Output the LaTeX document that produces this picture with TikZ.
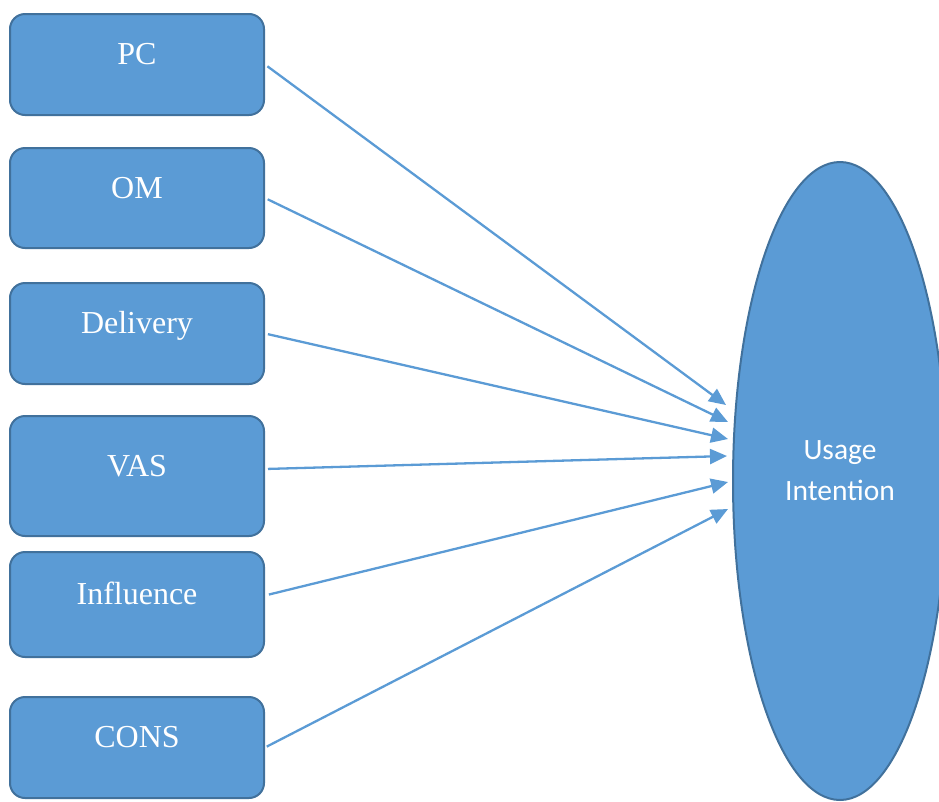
\documentclass[tikz,border=0pt]{standalone}
\usepackage{fontspec}
\setmainfont{Liberation Serif}
\newfontfamily\calibrifont{Carlito}
\usetikzlibrary{arrows.meta,positioning,shapes.geometric}
\definecolor{boxfill}{HTML}{5B9BD5}
\definecolor{boxline}{HTML}{41719C}

\begin{document}
\begin{tikzpicture}[x=1pt,y=-1pt,
    factor/.style={draw=boxline,line width=2pt,rounded corners=15pt,fill=boxfill,text=white,
      minimum width=254pt,inner sep=0pt,text height=24pt,text depth=24pt,
      font=\fontsize{32}{38}\selectfont},
    link/.style={-{Triangle[length=17pt,width=15pt]},boxfill,line width=2.3pt}]
    \useasboundingbox (0,0) rectangle (939,801);
    \node[factor,minimum height=101pt] (pc) at (137,64.5) {PC};
    \node[factor,minimum height=100pt,below=31pt of pc] (om) {OM};
    \node[factor,minimum height=101pt,below=33pt of om] (deliv) {Delivery};
    \node[factor,minimum height=120pt,below=30pt of deliv] (vas) {VAS};
    \node[factor,minimum height=105pt,below=14pt of vas] (infl) {Influence};
    \node[factor,minimum height=101pt,below=38pt of infl] (cons) {CONS};
    \node[ellipse,draw=boxline,line width=2pt,fill=boxfill,minimum width=214pt,minimum height=638pt,inner sep=0pt,
      label={[text=white,align=center,yshift=10pt,font=\calibrifont\fontsize{29.5}{41}\selectfont]center:Usage\\Intention}]
      (ui) at (840,481) {};
    \coordinate (pc-end) at (726,405);
    \coordinate (om-end) at (728,422);
    \coordinate (deliv-end) at (728,439);
    \coordinate (vas-end) at (727,456);
    \coordinate (infl-end) at (728,482);
    \coordinate (cons-end) at (728,509);
    \draw[link,shorten <=3pt] (pc.east) -- (pc-end);
    \draw[link,shorten <=3pt] (om.east) -- (om-end);
    \draw[link,shorten <=3pt] (deliv.east) -- (deliv-end);
    \draw[link,shorten <=3pt] ([yshift=7pt]vas.east) -- (vas-end);
    \draw[link,shorten <=4pt] ([yshift=9pt]infl.east) -- (infl-end);
    \draw[link,shorten <=2pt] (cons.east) -- (cons-end);
  \end{tikzpicture}
\end{document}
